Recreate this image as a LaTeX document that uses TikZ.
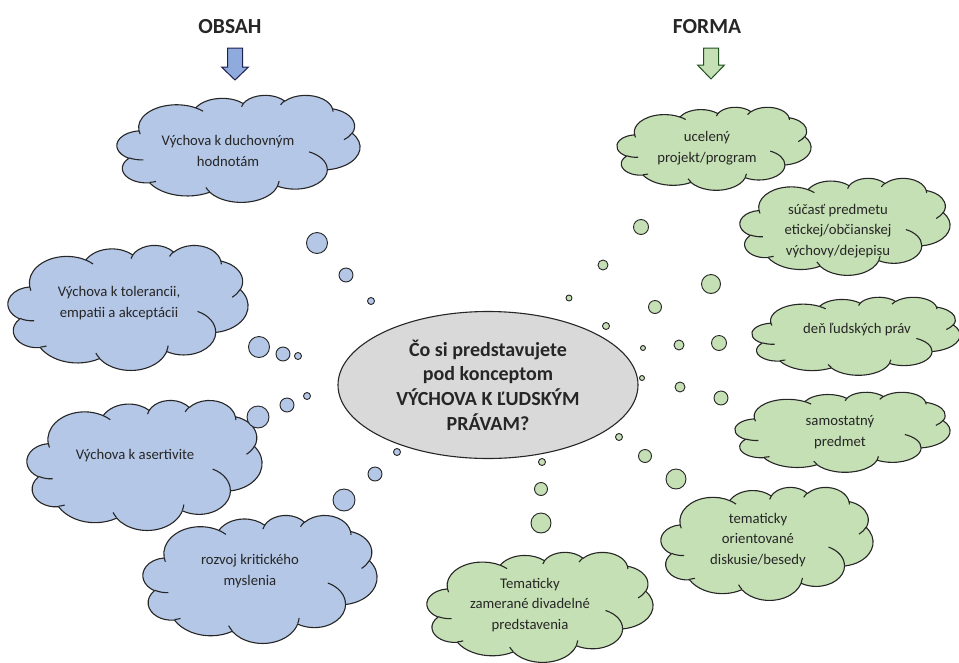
\documentclass[tikz,border=0pt]{standalone}
\usepackage{fontspec}
\setmainfont{Carlito}
\usetikzlibrary{shapes.geometric}
\definecolor{cblue}{HTML}{B4C7E7}
\definecolor{cgreen}{HTML}{C5E0B4}
\definecolor{cgrey}{HTML}{D9D9D9}
\definecolor{ablue}{HTML}{8FAADC}
\definecolor{agreen}{HTML}{C5E0B4}
\definecolor{ink}{HTML}{262626}
\tikzset{
  cloudline/.style={draw=ink, line width=1.1pt, line join=round},
  bubble/.style={draw=ink, line width=0.9pt},
  cloudtext/.style={align=center, font=\fontsize{14.7}{20.5}\selectfont, text=ink, inner sep=0pt},
  titletext/.style={font=\fontsize{21.5}{24}\selectfont\bfseries, text=ink, inner sep=0pt},
  blockarrow/.style={line width=1pt, line join=miter},
}
% arc of the Office cloud: wR, hR (in thousands), start and sweep angles (visual, degrees)
\newcommand\ooarc[4]{arc[x radius=#1, y radius=#2, start angle={atan2((#1)*sin(#3),(#2)*cos(#3))}, delta angle={mod(atan2((#1)*sin((#3)+(#4)),(#2)*cos((#3)+(#4)))-atan2((#1)*sin(#3),(#2)*cos(#3))+720,360)}]}
\newcommand\cloudpath{(3.9,14.37)
  \ooarc{6.753}{9.19}{-190.4875}{123.7805}
  \ooarc{5.333}{7.267}{-144.1024}{89.9452}
  \ooarc{4.365}{5.945}{-145.8079}{99.7230}
  \ooarc{4.857}{6.595}{-130.9861}{117.2417}
  \ooarc{5.333}{7.273}{-78.7089}{109.0269}
  \ooarc{6.775}{9.22}{-46.2673}{130.2690}
  \ooarc{5.785}{7.867}{0.6250}{114.0333}
  \ooarc{6.752}{9.215}{22.4516}{115.1726}
  \ooarc{7.72}{10.543}{66.2426}{75.7110}
  \ooarc{4.36}{5.918}{-274.9421}{146.7356}
  \ooarc{4.345}{5.945}{-246.8285}{152.5189} -- cycle}
\newcommand\cloudinner{
  (4.693,26.177) \ooarc{4.345}{5.945}{86.742}{26.4295}
  (6.928,34.899) \ooarc{4.36}{5.918}{73.6105}{11.4475}
  (16.478,39.09) \ooarc{6.752}{9.215}{137.6242}{14.0811}
  (28.827,34.751) \ooarc{6.752}{9.215}{6.4533}{15.9984}
  (34.129,22.954) \ooarc{5.785}{7.867}{-70.2924}{70.9174}
  (41.798,15.354) \ooarc{5.333}{7.273}{30.3180}{27.7515}
  (38.324,5.426) \ooarc{4.857}{6.595}{-13.7443}{14.8589}
  (29.078,3.952) \ooarc{4.857}{6.595}{-149.1815}{18.1954}
  (22.141,4.72) \ooarc{4.365}{5.945}{-163.4943}{17.6864}
  (14.0,5.192) \ooarc{6.753}{9.19}{-66.7070}{12.3194}
  (4.127,15.789) \ooarc{6.753}{9.19}{157.6544}{11.8582}}
% cloud: left, top, width, height (pixels), fill colour
\newcommand\ocloud[5]{%
  \begin{scope}[shift={(#1,-#2)}, xscale=#3/43.2, yscale=-#4/43.2]
    \path[cloudline, fill=#5] \cloudpath;
    \path[cloudline] \cloudinner;
  \end{scope}}
\begin{document}
\begin{tikzpicture}[x=1pt,y=1pt]
\useasboundingbox (0,0) rectangle (959,-662);

% titles and block arrows
\node[titletext] (obsah) at (230,-27) {OBSAH};
\node[titletext] (forma) at (707,-27) {FORMA};
\draw[blockarrow, draw=ink!80!blue, fill=ablue]
  (227.5,-48) -- (242.5,-48) -- (242.5,-67) -- (248.5,-67) -- (235,-80)
  -- (221.5,-67) -- (227.5,-67) -- cycle;
\draw[blockarrow, draw=ink!80!green, fill=agreen]
  (703.5,-48) -- (718.5,-48) -- (718.5,-65) -- (724.5,-65) -- (711,-79)
  -- (697.5,-65) -- (703.5,-65) -- cycle;

% blue clouds
\ocloud{117}{95}{243}{107}{cblue}
\ocloud{8}{245}{240}{125}{cblue}
\ocloud{27}{400}{235}{130}{cblue}
\ocloud{143}{515}{234}{128}{cblue}

% green clouds
\ocloud{617}{107}{194}{83}{cgreen}
\ocloud{740}{178}{210}{97}{cgreen}
\ocloud{752}{297}{208}{78}{cgreen}
\ocloud{735}{392}{215}{80}{cgreen}
\ocloud{661}{487}{212}{113}{cgreen}
\ocloud{427}{552}{226}{110}{cgreen}

% blue bubbles
\foreach \x/\y/\r in {317/243/10.5, 346/275/7, 371/301/3.5,
                      259/347/10.5, 283/354/7, 298/356/3.5,
                      258/417/11, 287/405/7, 307/396/3.5,
                      397/452/3.5, 375/474/7, 344/500/11}
  \draw[bubble, fill=cblue] (\x,-\y) circle[radius=\r];

% green bubbles
\foreach \x/\y/\r in {569/298/3, 603/265/5, 641/227/7.5,
                      606/326/3.5, 655/307/6.5, 711/284/9.5,
                      643/348/2.5, 679/345/5, 719/343/7.5,
                      642/378/2.5, 680/387/5, 721/398/7,
                      619/437/3.5, 645/456/6.5, 676/479/10,
                      542/462/3.5, 541/489/6.5, 541/523/10}
  \draw[bubble, fill=cgreen] (\x,-\y) circle[radius=\r];

% central ellipse
\node[ellipse, draw=ink, line width=1.1pt, fill=cgrey, minimum width=300, minimum height=147,
      inner sep=0pt, align=center, text=ink,
      font=\fontsize{20}{24.7}\selectfont\bfseries] (q) at (488,-385)
  {Čo si predstavujete\\pod konceptom\\VÝCHOVA K ĽUDSKÝM\\PRÁVAM?};

% cloud texts
\node[cloudtext] (b1) at (228,-151) {Výchova k duchovným\\hodnotám};
\node[cloudtext] (b2) at (119,-303) {Výchova k tolerancii,\\empatii a akceptácii};
\node[cloudtext] (b3) at (135,-456) {Výchova k asertivite};
\node[cloudtext] (b4) at (250,-571) {rozvoj kritického\\myslenia};
\node[cloudtext] (g1) at (707,-148) {ucelený\\projekt/program};
\node[cloudtext] (g2) at (838,-231) {súčasť predmetu\\etickej/občianskej\\výchovy/dejepisu};
\node[cloudtext] (g3) at (857,-330) {deň ľudských práv};
\node[cloudtext] (g4) at (840,-432) {samostatný\\predmet};
\node[cloudtext] (g5) at (758,-540) {tematicky\\orientované\\diskusie/besedy};
\node[cloudtext] (g6) at (530,-605) {Tematicky\\zamerané divadelné\\predstavenia};
\end{tikzpicture}
\end{document}
